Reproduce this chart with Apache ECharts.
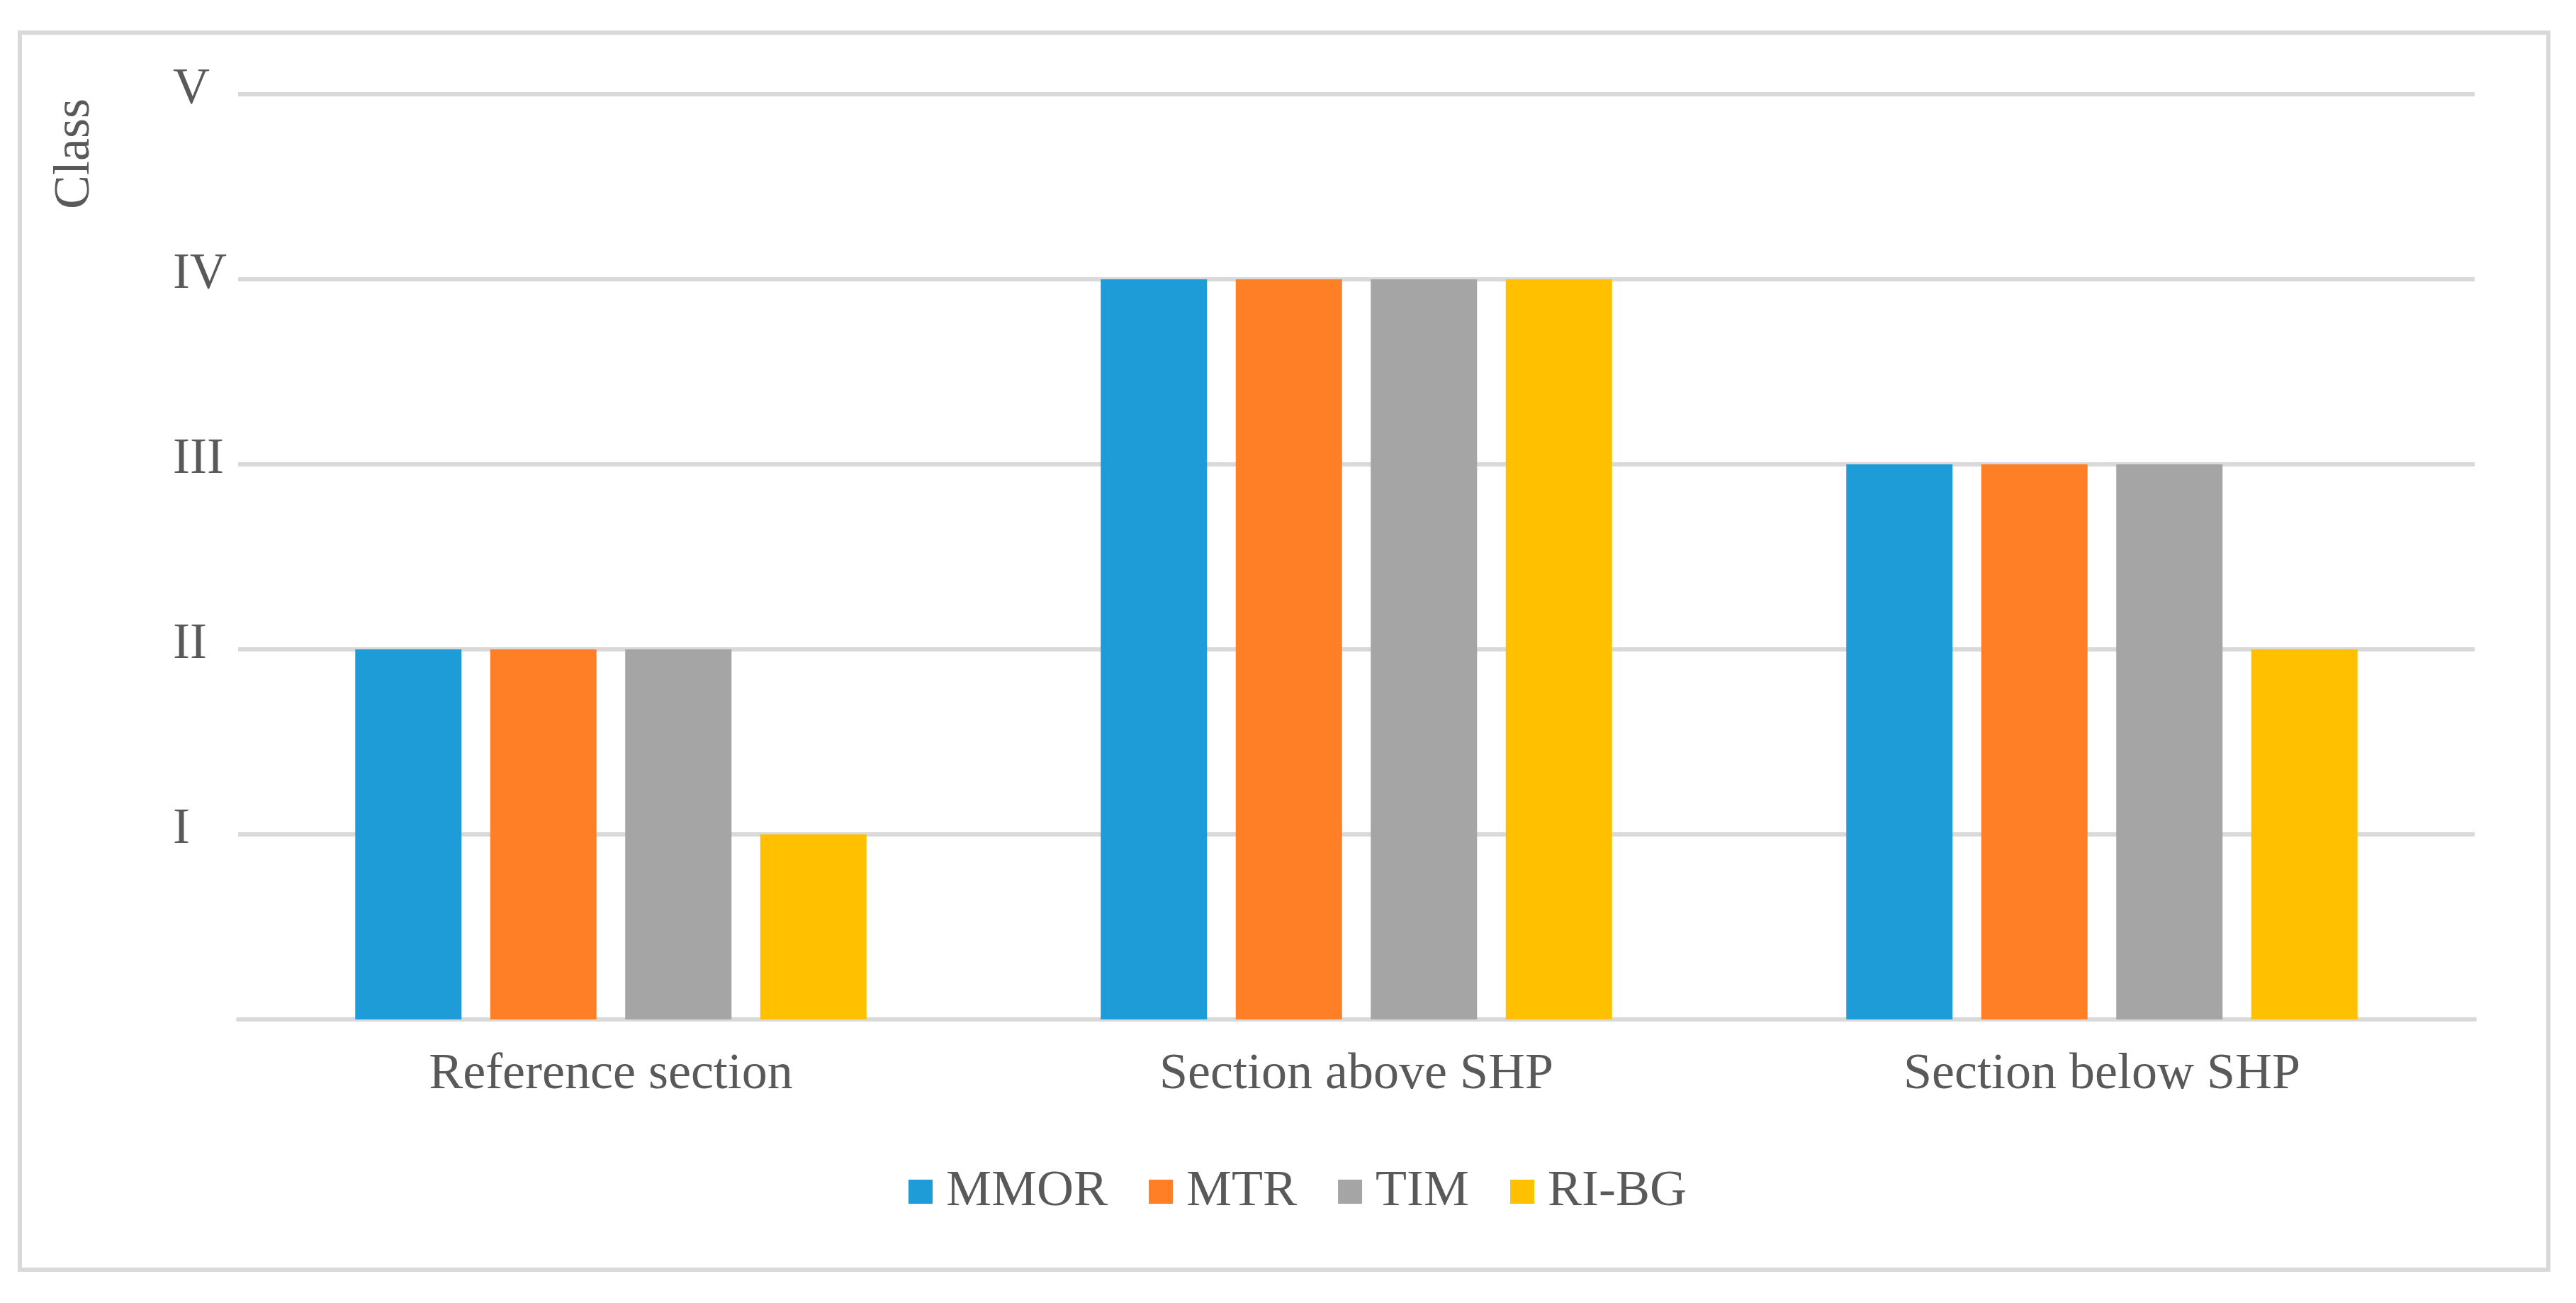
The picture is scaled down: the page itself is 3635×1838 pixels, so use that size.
<!DOCTYPE html>
<html>
<head>
<meta charset="utf-8">
<script src="https://cdn.jsdelivr.net/npm/echarts@6/dist/echarts.min.js"></script>
<style>
  html, body { margin: 0; padding: 0; background: #fff; }
  #main { width: 3635px; height: 1838px; }
</style>
</head>
<body>
<div id="main"></div>
<script>
// data
const categories = ['Reference section', 'Section above SHP', 'Section below SHP'];
const seriesNames = ['MMOR', 'MTR', 'TIM', 'RI-BG'];
const mmor = [2, 4, 3];
const mtr = [2, 4, 3];
const tim = [2, 4, 3];
const riBg = [1, 4, 2];
const classLabels = ['', 'I', 'II', 'III', 'IV', 'V'];

const colors = ['#1E9CD8', '#FF7F27', '#A5A5A5', '#FFC000'];
const font = '"Liberation Serif", "Times New Roman", serif';
const textColor = '#595959';

const chart = echarts.init(document.getElementById('main'));

const values = [mmor, mtr, tim, riBg];

var option = {
  backgroundColor: '#fff',
  color: colors,
  animation: false,
  grid: {
    left: 336,
    right: 143,
    top: 133,
    bottom: 400
  },
  legend: {
    data: seriesNames,
    left: 1277,
    top: 1640,
    icon: 'rect',
    itemWidth: 34,
    itemHeight: 34,
    itemGap: 58,
    textStyle: {
      fontFamily: font,
      fontSize: 72,
      lineHeight: 72,
      color: textColor,
      padding: [0, 0, 0, 14]
    }
  },
  xAxis: {
    type: 'category',
    data: categories,
    axisLine: { lineStyle: { color: '#D9D9D9', width: 6 } },
    axisTick: { show: false },
    axisLabel: {
      margin: 42,
      fontFamily: font,
      fontSize: 72,
      lineHeight: 72,
      color: textColor
    }
  },
  yAxis: {
    type: 'value',
    min: 0,
    max: 5,
    interval: 1,
    axisLine: { show: false },
    axisTick: { show: false },
    splitLine: { lineStyle: { color: '#D9D9D9', width: 6 } },
    axisLabel: {
      align: 'left',
      margin: 92,
      color: textColor,
      formatter: function (v) {
        return classLabels[v] ? '{c|' + classLabels[v] + '}' : '';
      },
      rich: {
        c: {
          fontFamily: font,
          fontSize: 72,
          lineHeight: 72,
          color: textColor,
          padding: [0, 0, 14, 0]
        }
      }
    }
  },
  graphic: [
    {
      type: 'rect',
      shape: { x: 28, y: 46, width: 3568, height: 1745 },
      style: { fill: 'none', stroke: '#D9D9D9', lineWidth: 6 },
      z: -1
    },
    {
      type: 'text',
      x: 106,
      y: 217,
      rotation: Math.PI / 2,
      style: {
        text: 'Class',
        font: '72px ' + font,
        fill: textColor,
        align: 'center',
        verticalAlign: 'middle'
      }
    }
  ],
  series: seriesNames.map(function (name, i) {
    return {
      name: name,
      type: 'bar',
      data: values[i],
      barWidth: 150,
      barGap: '27%'
    };
  })
};

chart.setOption(option);
</script>
</body>
</html>
